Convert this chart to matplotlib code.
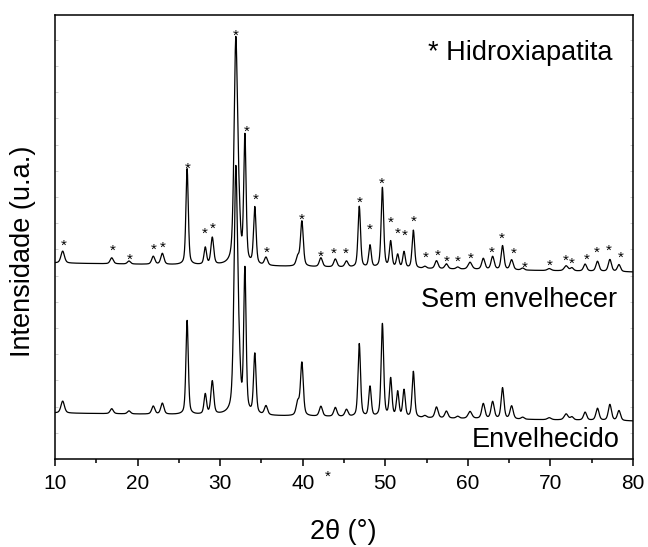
import numpy as np
import matplotlib
matplotlib.use("Agg")
import matplotlib.pyplot as plt
from matplotlib.ticker import MultipleLocator

plt.rcParams['font.family'] = ['Liberation Sans', 'DejaVu Sans']

# Diffraction peaks: position (2-theta, degrees), height and FWHM (a.u.)
peak_pos = [10.93, 16.87, 18.96, 21.9, 23.0, 26.0, 28.2, 29.05, 31.9, 32.3, 33.0,
            34.2, 35.55, 39.4, 39.9, 42.2, 43.95, 45.3, 46.85, 48.15, 49.65, 50.65,
            51.5, 52.27, 53.4, 54.8, 56.2, 57.4, 58.77, 60.26, 61.87, 63.0, 64.2,
            65.3, 66.64, 69.86, 71.9, 72.6, 74.2, 75.7, 77.2, 78.3]
sem_height = [12, 6, 3, 8, 11, 96, 17, 27, 224, 30, 126,
              57, 8, 9, 45, 9, 8, 6, 61, 22, 80, 26,
              13, 16, 38, 2, 8, 5, 2, 7, 11, 13, 24,
              10, 2, 2, 5, 3, 7, 10, 12, 7]
env_height = [12, 5, 3, 8, 11, 94, 20, 33, 244, 34, 142,
              60, 9, 13, 53, 10, 9, 7, 73, 30, 93, 38,
              25, 27, 46, 2, 11, 7, 2, 7, 15, 17, 31,
              13, 2, 2, 6, 3, 8, 12, 16, 10]
peak_fwhm = [0.5, 0.45, 0.45, 0.45, 0.45, 0.34, 0.36, 0.4, 0.5, 0.4, 0.34,
             0.36, 0.45, 0.45, 0.4, 0.45, 0.45, 0.45, 0.36, 0.36, 0.36, 0.36,
             0.36, 0.36, 0.36, 0.45, 0.45, 0.45, 0.45, 0.55, 0.45, 0.45, 0.4,
             0.45, 0.45, 0.55, 0.55, 0.45, 0.45, 0.45, 0.45, 0.45]

# Background level at 10 and 80 degrees for each pattern (stacked offsets)
sem_background = [196, 187]
env_background = [46, 38]

# Hydroxyapatite reflections marked on the upper pattern
star_x = [11.0, 17.0, 19.0, 21.9, 23.1, 26.1, 28.1, 29.05, 31.9, 33.25, 34.25, 35.7,
          39.9, 42.2, 43.8, 45.2, 46.9, 48.1, 49.6, 50.7, 51.5, 52.4, 53.5, 54.9,
          56.35, 57.5, 58.8, 60.3, 62.9, 64.1, 65.5, 66.9, 69.95, 71.8, 72.6,
          74.4, 75.6, 77.1, 78.5]
star_y = [218, 213, 204, 214, 216, 295, 230, 235, 428, 332, 264, 211,
          244, 207, 210, 210, 261, 234, 280, 241, 230, 228, 242, 206,
          208, 202, 202, 205, 211, 225, 210, 196, 198, 203, 200,
          204, 211, 213, 206]

two_theta = np.linspace(10, 80, 4201)


def pattern(heights, background):
    y = np.interp(two_theta, [10, 80], background)
    for p, h, w in zip(peak_pos, heights, peak_fwhm):
        g = np.exp(-4 * np.log(2) * ((two_theta - p) / w) ** 2)
        lor = 1.0 / (1.0 + 4 * ((two_theta - p) / w) ** 2)
        y = y + h * (0.55 * g + 0.45 * lor)
    return y


sem = pattern(sem_height, sem_background)
env = pattern(env_height, env_background)

fig = plt.figure(figsize=(6.48, 5.47), dpi=100)
ax = fig.add_axes([55 / 648, 88 / 547, 578 / 648, 444 / 547])

ax.plot(two_theta, sem, color='black', lw=0.9)
ax.plot(two_theta, env, color='black', lw=0.9)

for sx, sy in zip(star_x, star_y):
    ax.text(sx, sy - 9, '*', fontsize=11, ha='center', va='baseline')
ax.text(43.0, -13 - 9, '*', fontsize=11, ha='center', va='baseline', clip_on=False)

ax.set_xlim(10, 80)
ax.set_ylim(0, 444)
ax.xaxis.set_major_locator(MultipleLocator(10))
ax.xaxis.set_minor_locator(MultipleLocator(5))
ax.yaxis.set_major_locator(MultipleLocator(26.2))
ax.tick_params(axis='x', which='major', direction='out', length=5, width=1.1,
               labelsize=15, pad=6)
ax.tick_params(axis='x', which='minor', direction='out', length=3, width=1.1)
ax.tick_params(axis='y', which='major', direction='in', length=2.5, width=0.6,
               color='#c8c8c8', left=True, right=True, labelleft=False)
for s in ax.spines.values():
    s.set_linewidth(1.1)

ax.text((613 - 55) / 578, (459 - 60) / 444, '* Hidroxiapatita', fontsize=19.5,
        ha='right', va='baseline', transform=ax.transAxes)
ax.text((617 - 55) / 578, (459 - 307) / 444, 'Sem envelhecer', fontsize=19.5,
        ha='right', va='baseline', transform=ax.transAxes)
ax.text((620 - 55) / 578, (459 - 447) / 444, 'Envelhecido', fontsize=19.5,
        ha='right', va='baseline', transform=ax.transAxes)

fig.text(23 / 648, 1 - 251 / 547, 'Intensidade (u.a.)', fontsize=19.5,
         rotation=90, ha='center', va='center')
fig.text(343 / 648, 1 - 532 / 547, '2θ (°)', fontsize=19.5, ha='center', va='center')

fig.savefig('out.png', dpi=100)
